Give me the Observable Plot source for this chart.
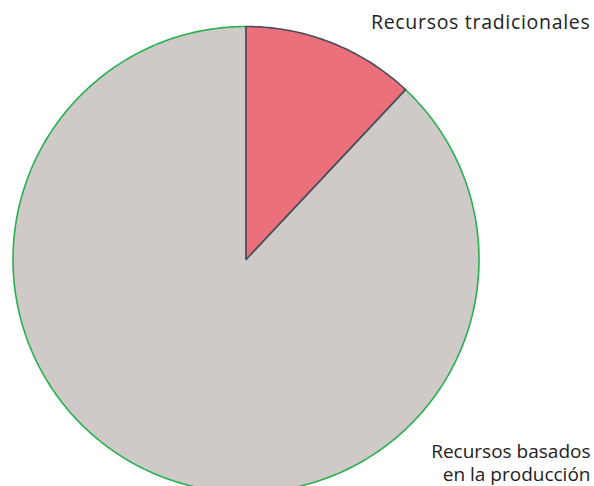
<!DOCTYPE html>
<html><head><meta charset="utf-8">
<script src="https://cdn.jsdelivr.net/npm/d3@7"></script>
<script src="https://cdn.jsdelivr.net/npm/@observablehq/plot@0.6"></script>
<style>html,body{margin:0;padding:0;background:#fff;overflow:hidden}</style>
</head><body><div id="chart"></div>
<script>
const categories = ["Recursos tradicionales", "Recursos basados en la producción"];
const values = [12, 88];
const fills = ["#ec6f7c", "#cfcac8"];
const strokes = ["#4b4a5c", "#27b04f"];
const labelLines = [["Recursos tradicionales"], ["Recursos basados", "en la producción"]];

const pie = d3.pie().sort(null).value(d => d)(values);
const pts = [];
pie.forEach((s, i) => {
  const n = Math.max(2, Math.ceil((s.endAngle - s.startAngle) / 0.01));
  pts.push({name: categories[i], x: 0, y: 0, i});
  for (let k = 0; k <= n; k++) {
    const a = s.startAngle + (s.endAngle - s.startAngle) * k / n;
    pts.push({name: categories[i], x: Math.sin(a), y: Math.cos(a), i});
  }
});
const order = [1, 0];
const ptsOrdered = order.flatMap(i => pts.filter(p => p.i === i));

const font = "'Open Sans', Lato, sans-serif";
const chart = Plot.plot({
  width: 594, height: 486,
  margin: 0,
  style: {fontFamily: font, overflow: "hidden"},
  x: {domain: [-1, 1], range: [12.5, 478.5], axis: null},
  y: {domain: [-1, 1], range: [492, 26], axis: null},
  marks: [
    Plot.line(ptsOrdered, {x: "x", y: "y", z: "name", curve: "linear-closed",
      fill: d => fills[d.i], stroke: d => strokes[d.i], strokeWidth: 1.6}),
    Plot.text([labelLines[0].join("\n")], {text: d => d, frameAnchor: "top-right", dx: -4, dy: 15,
      fontSize: 19.5, fill: "#222", lineAnchor: "top"}),
    Plot.text([labelLines[1].join("\n")], {text: d => d, frameAnchor: "bottom-right", dx: -4, dy: -6,
      fontSize: 19, fill: "#222", textAnchor: "end", lineHeight: 1.2, lineAnchor: "bottom"})
  ]
});
chart.querySelectorAll("text").forEach(t => {
  if (t.textContent === labelLines[0][0]) t.style.letterSpacing = "0.7px";
});
document.getElementById("chart").append(chart);
</script></body></html>
